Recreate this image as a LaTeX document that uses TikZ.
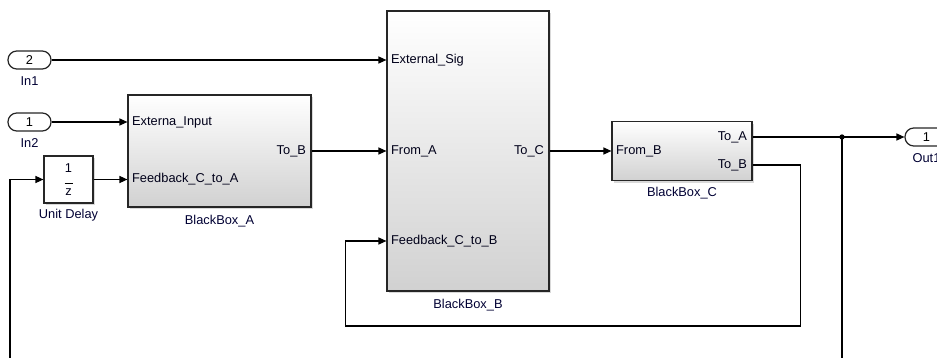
\documentclass[tikz,border=0pt]{standalone}
\usepackage{fontspec}
\setmainfont{Liberation Sans}
\usetikzlibrary{positioning, arrows.meta, calc, shadows}

\tikzset{
  block/.style={draw=black!85, line width=0.7pt, top color=white, bottom color=black!18,
    drop shadow={shadow xshift=1.2pt, shadow yshift=-1.2pt, opacity=0.3}, inner sep=0pt},
  delaybox/.style={draw=black!85, line width=0.7pt, fill=white,
    drop shadow={shadow xshift=1.2pt, shadow yshift=-1.2pt, opacity=0.3}, inner sep=0pt},
  portio/.style={draw=black!85, line width=0.7pt, fill=white, rounded corners=5pt,
    minimum width=0.86cm, minimum height=0.36cm, inner sep=0pt, font=\fontsize{7.3}{8}\selectfont},
  sig/.style={line width=0.6pt, -{Triangle[length=4.5pt,width=4pt]}},
  plabel/.style={font=\fontsize{7.3}{8}\selectfont, text=black!90!blue, inner sep=0pt},
  blabel/.style={font=\fontsize{7.3}{8}\selectfont, text=black!80!blue, inner sep=0pt},
}

\begin{document}
\begin{tikzpicture}[x=0.02cm, y=-0.02cm]
  \useasboundingbox (0,0) rectangle (937,358);
  \clip (0,0) rectangle (937,358);

  % inports and outport
  \node[portio] (in1) at (29.5,60) {2};
  \node[blabel, below=4pt of in1] (in1lbl) {In1};
  \node[portio] (in2) at (29.5,122) {1};
  \node[blabel, below=4pt of in2] (in2lbl) {In2};
  \node[portio] (out1) at (926.5,137) {1};
  \node[blabel, below=3.5pt of out1] (out1lbl) {Out1};

  % unit delay
  \node[delaybox, minimum width=0.98cm, minimum height=0.94cm] (ud) at (68.5,179.5) {};
  \node[plabel] (udnum) at ($(ud.center)+(0,-11)$) {1};
  \draw[line width=0.5pt] ($(ud.center)+(-4,4)$) -- ($(ud.center)+(4,4)$);
  \node[plabel] (udden) at ($(ud.center)+(0,13)$) {z};
  \node[blabel, below=3pt of ud] (udlbl) {Unit Delay};

  % black boxes
  \node[block, minimum width=3.66cm, minimum height=2.24cm] (bbA) at (219.5,151) {};
  \node[blabel, below=4pt of bbA] (bbAlbl) {BlackBox\_A};
  \node[block, minimum width=3.24cm, minimum height=5.6cm] (bbB) at (468,151) {};
  \node[blabel, below=4pt of bbB] (bbBlbl) {BlackBox\_B};
  \node[block, minimum width=2.8cm, minimum height=1.18cm] (bbC) at (682,151) {};
  \node[blabel, below=3.5pt of bbC] (bbClbl) {BlackBox\_C};

  % port coordinates
  \coordinate (extsig) at (in1.east -| bbB.west);
  \coordinate (extin) at (in2.east -| bbA.west);
  \coordinate (fbA) at (ud.east -| bbA.west);
  \coordinate (fromA) at (bbA.east -| bbB.west);
  \coordinate (fromB) at (bbB.east -| bbC.west);
  \coordinate (fbB) at ($(bbB.west)+(0,90)$);
  \coordinate (toA) at ($(bbC.east)+(0,-14)$);
  \coordinate (toB) at ($(bbC.east)+(0,14)$);
  \coordinate (jn) at (toA -| 842,0);

  % port labels
  \node[plabel, right=2.5pt] (extsiglbl) at (extsig) {External\_Sig};
  \node[plabel, right=2.5pt] (extinlbl) at (extin) {Externa\_Input};
  \node[plabel, right=2.5pt] (fbAlbl) at (fbA) {Feedback\_C\_to\_A};
  \node[plabel, left=3pt] (toBAlbl) at (bbA.east) {To\_B};
  \node[plabel, right=2.5pt] (fromAlbl) at (fromA) {From\_A};
  \node[plabel, right=2.5pt] (fbBlbl) at (fbB) {Feedback\_C\_to\_B};
  \node[plabel, left=3pt] (toClbl) at (bbB.east) {To\_C};
  \node[plabel, right=2.5pt] (fromBlbl) at (fromB) {From\_B};
  \node[plabel, left=3pt] (toAlbl) at (toA) {To\_A};
  \node[plabel, left=3pt] (toBlbl) at (toB) {To\_B};

  % signals
  \draw[sig] (in1.east) -- (extsig);
  \draw[sig] (in2.east) -- (extin);
  \draw[sig] (ud.east) -- (fbA);
  \draw[sig] (bbA.east) -- (fromA);
  \draw[sig] (bbB.east) -- (fromB);
  \draw[sig] (toA) -- (out1.west);
  \draw[sig] (toB) -- ++(48,0) |- ++(-455,161) |- (fbB);
  \draw[sig] (jn) |- (10,380) |- (ud.west);
  \fill (jn) circle (1.5pt);
\end{tikzpicture}
\end{document}
